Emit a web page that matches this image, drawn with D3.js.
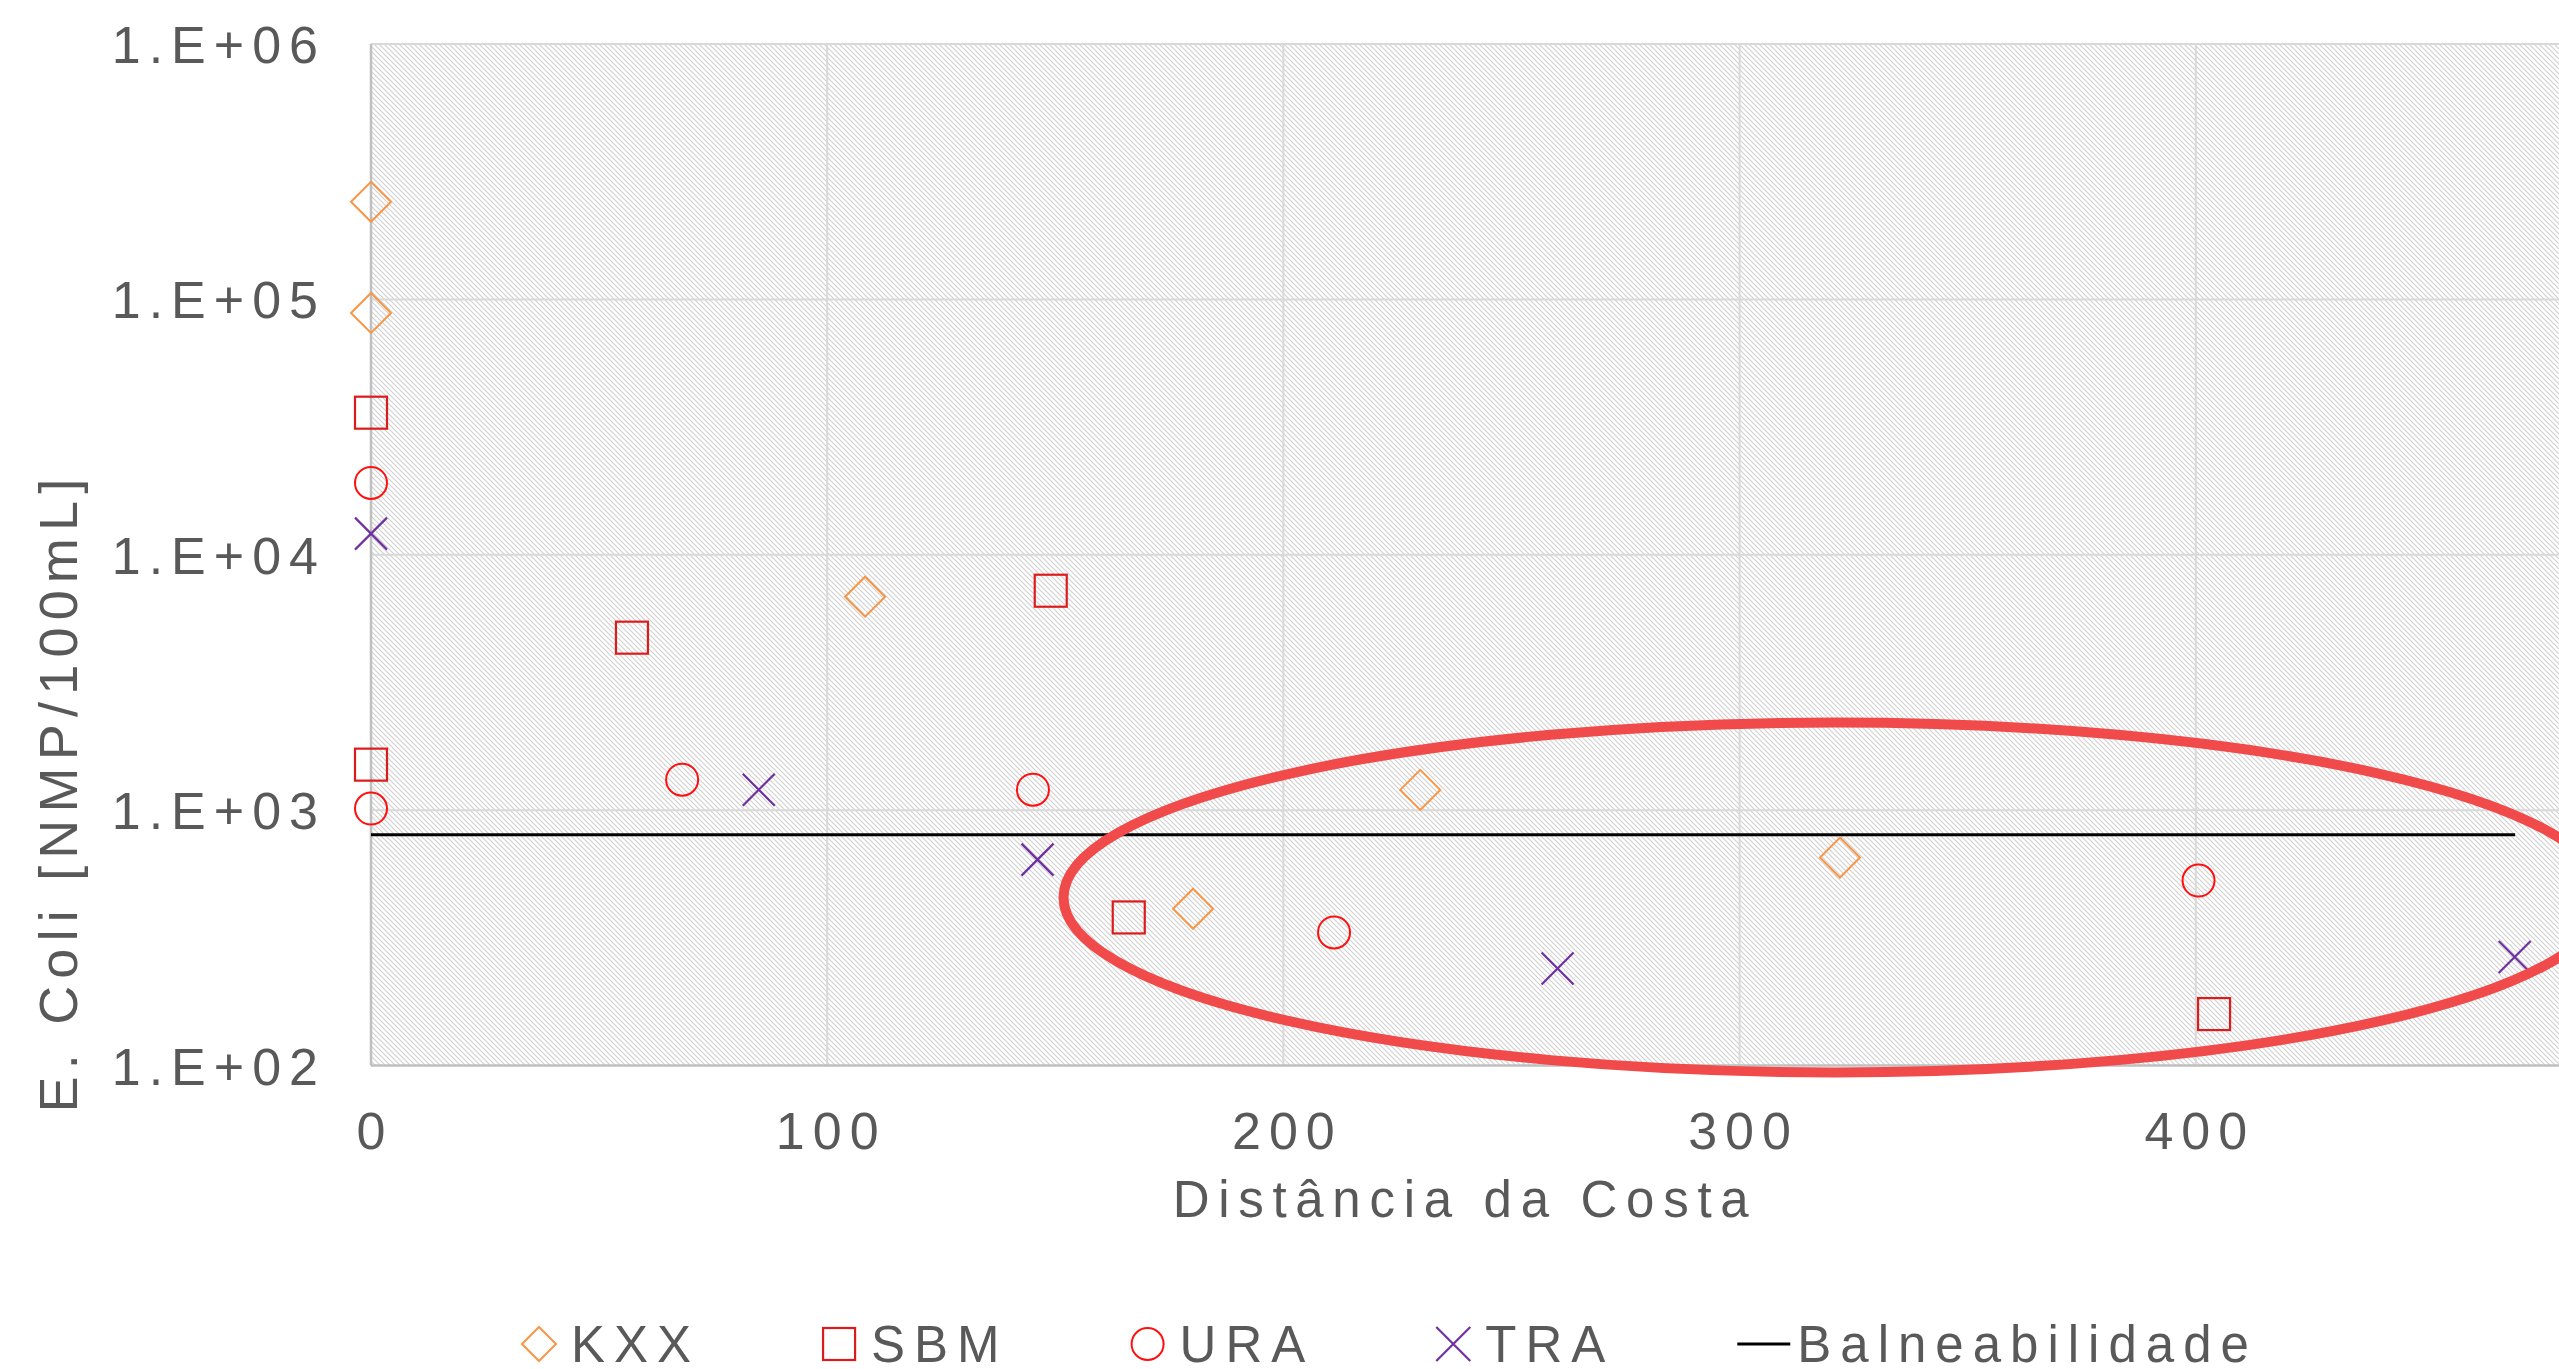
<!DOCTYPE html>
<html lang="pt">
<head>
    <meta charset="UTF-8">
    <title>E. Coli vs Distância da Costa</title>
    <style>
        body {
            margin: 0;
            background: #ffffff;
            overflow: hidden;
        }
        svg text {
            font-family: "Liberation Sans", Arial, sans-serif;
            fill: #595959;
        }
    </style>
</head>
<body>
<div id="chart"></div>

<script src="https://cdn.jsdelivr.net/npm/d3@7/dist/d3.min.js"></script>
<script>
    // values
    const kxxX = [0, 0, 108.3, 230.0, 180.2, 322.0];
    const kxxY = [241000, 88500, 6850, 1200, 411, 652];

    const sbmX = [0, 57.2, 149.0, 0, 166.1, 404.0];
    const sbmY = [36000, 4735, 7230, 1507, 380, 159];

    const uraX = [0, 0, 68.2, 145.1, 211.1, 400.6];
    const uraY = [19100, 1014, 1316, 1202, 332, 530];

    const traX = [0, 85.0, 146.1, 260.1, 469.9];
    const traY = [12100, 1202, 640, 240, 266];

    const limitX = [0, 470];
    const limitY = [800, 800];

    const yTicks = [100, 1000, 10000, 100000, 1000000];
    const yTickLabels = ["1.E+02", "1.E+03", "1.E+04", "1.E+05", "1.E+06"];
    const xTicks = [0, 100, 200, 300, 400];

    // red ellipse drawn over the chart (centre in data units, radii in units / decades)
    const ringCentre = [320.8, 455];
    const ringRadii = [169, 0.685];

    const legendNames = ["KXX", "SBM", "URA", "TRA", "Balneabilidade"];

    const W = 2559, H = 1369;
    const plotLeft = 371, plotTop = 44, plotBottom = 1065.5, plotRight = 2652;

    const svg = d3.select("#chart").append("svg")
        .attr("width", W)
        .attr("height", H);

    const defs = svg.append("defs");
    const pat = defs.append("pattern")
        .attr("id", "hatch")
        .attr("patternUnits", "userSpaceOnUse")
        .attr("width", 5)
        .attr("height", 5);
    pat.append("rect").attr("width", 5).attr("height", 5).attr("fill", "#fff");
    pat.append("path")
        .attr("d", "M-1,-1 L6,6 M-1,4 L1,6 M4,-1 L6,1")
        .attr("stroke", "#d0d0d0")
        .attr("stroke-width", 1.1);

    const x = d3.scaleLinear().domain([0, 500]).range([plotLeft, plotRight]);
    const y = d3.scaleLog().domain([100, 1000000]).range([plotBottom, plotTop]);

    // plot area
    svg.append("rect")
        .attr("x", plotLeft).attr("y", plotTop)
        .attr("width", plotRight - plotLeft).attr("height", plotBottom - plotTop)
        .attr("fill", "url(#hatch)");

    // gridlines
    svg.append("g")
        .selectAll("line")
        .data(yTicks.slice(1))
        .join("line")
        .attr("x1", plotLeft).attr("x2", plotRight)
        .attr("y1", d => y(d)).attr("y2", d => y(d))
        .attr("stroke", "#d9d9d9")
        .attr("stroke-width", 2);

    svg.append("g")
        .selectAll("line")
        .data(xTicks.slice(1))
        .join("line")
        .attr("x1", d => x(d)).attr("x2", d => x(d))
        .attr("y1", plotTop).attr("y2", plotBottom)
        .attr("stroke", "#d9d9d9")
        .attr("stroke-width", 2);

    // axis lines
    svg.append("line")
        .attr("x1", plotLeft).attr("x2", plotLeft).attr("y1", plotTop).attr("y2", plotBottom)
        .attr("stroke", "#bfbfbf").attr("stroke-width", 2.5);
    svg.append("line")
        .attr("x1", plotLeft).attr("x2", plotRight).attr("y1", plotBottom).attr("y2", plotBottom)
        .attr("stroke", "#bfbfbf").attr("stroke-width", 2.5);

    // tick labels
    svg.append("g")
        .selectAll("text")
        .data(yTicks)
        .join("text")
        .attr("x", plotLeft - 45)
        .attr("y", d => y(d) + 19)
        .attr("text-anchor", "end")
        .style("font-size", "52px")
        .style("letter-spacing", "8px")
        .text((d, i) => yTickLabels[i]);

    svg.append("g")
        .selectAll("text")
        .data(xTicks)
        .join("text")
        .attr("x", d => x(d) + 4)
        .attr("y", plotBottom + 83)
        .attr("text-anchor", "middle")
        .style("font-size", "52px")
        .style("letter-spacing", "8px")
        .text(d => d);

    // axis titles
    svg.append("text")
        .attr("x", 1465)
        .attr("y", 1217)
        .attr("text-anchor", "middle")
        .style("font-size", "51px")
        .style("letter-spacing", "8.7px")
        .text("Distância da Costa");

    svg.append("text")
        .attr("transform", "translate(77,792) rotate(-90)")
        .attr("text-anchor", "middle")
        .style("font-size", "54px")
        .style("letter-spacing", "7.2px")
        .text("E. Coli [NMP/100mL]");

    // marker drawers
    const markers = {
        diamond: (g, s, c) => g.append("path")
            .attr("d", `M0,${-s / 2}L${s / 2},0L0,${s / 2}L${-s / 2},0Z`)
            .attr("fill", "none").attr("stroke", c).attr("stroke-width", 2),
        square: (g, s, c) => g.append("rect")
            .attr("x", -s / 2).attr("y", -s / 2).attr("width", s).attr("height", s)
            .attr("fill", "none").attr("stroke", c).attr("stroke-width", 2.2),
        circle: (g, s, c) => g.append("circle")
            .attr("r", s / 2)
            .attr("fill", "none").attr("stroke", c).attr("stroke-width", 2),
        cross: (g, s, c) => g.append("path")
            .attr("d", `M${-s / 2},${-s / 2}L${s / 2},${s / 2}M${-s / 2},${s / 2}L${s / 2},${-s / 2}`)
            .attr("fill", "none").attr("stroke", c).attr("stroke-width", 2.2)
    };

    const series = [
        { xs: kxxX, ys: kxxY, shape: "diamond", size: 40, legendSize: 34, color: "#f79646" },
        { xs: sbmX, ys: sbmY, shape: "square", size: 32, legendSize: 32, color: "#de1b1b" },
        { xs: uraX, ys: uraY, shape: "circle", size: 32, legendSize: 32, color: "#ff1010" },
        { xs: traX, ys: traY, shape: "cross", size: 32, legendSize: 34, color: "#7030a0" }
    ];

    // limit line
    svg.append("line")
        .attr("x1", x(limitX[0])).attr("x2", x(limitX[1]))
        .attr("y1", y(limitY[0])).attr("y2", y(limitY[1]))
        .attr("stroke", "#000").attr("stroke-width", 3);

    series.forEach(s => {
        s.xs.forEach((xv, i) => {
            const g = svg.append("g")
                .attr("transform", `translate(${x(xv)},${y(s.ys[i])})`);
            markers[s.shape](g, s.size, s.color);
        });
    });

    // annotation ring
    svg.append("ellipse")
        .attr("cx", x(ringCentre[0]))
        .attr("cy", y(ringCentre[1]))
        .attr("rx", x(ringCentre[0] + ringRadii[0]) - x(ringCentre[0]))
        .attr("ry", y(ringCentre[1]) - y(ringCentre[1] * Math.pow(10, ringRadii[1])))
        .attr("fill", "none")
        .attr("stroke", "#f04a4a")
        .attr("stroke-width", 10);

    // legend
    const legendY = 1344;
    let lx = 523;
    legendNames.forEach((name, i) => {
        const g = svg.append("g");
        let textX;
        if (i < series.length) {
            const s = series[i];
            const m = g.append("g").attr("transform", `translate(${lx + 16},${legendY})`);
            markers[s.shape](m, s.legendSize, s.color);
            textX = lx + 48;
        } else {
            g.append("line")
                .attr("x1", lx).attr("x2", lx + 53)
                .attr("y1", legendY).attr("y2", legendY)
                .attr("stroke", "#000").attr("stroke-width", 3);
            textX = lx + 60;
        }
        const t = g.append("text")
            .attr("x", textX)
            .attr("y", legendY + 18)
            .style("font-size", "51px")
            .style("letter-spacing", "9px")
            .text(name);
        lx = textX + t.node().getComputedTextLength() + 123;
    });
</script>
</body>
</html>
